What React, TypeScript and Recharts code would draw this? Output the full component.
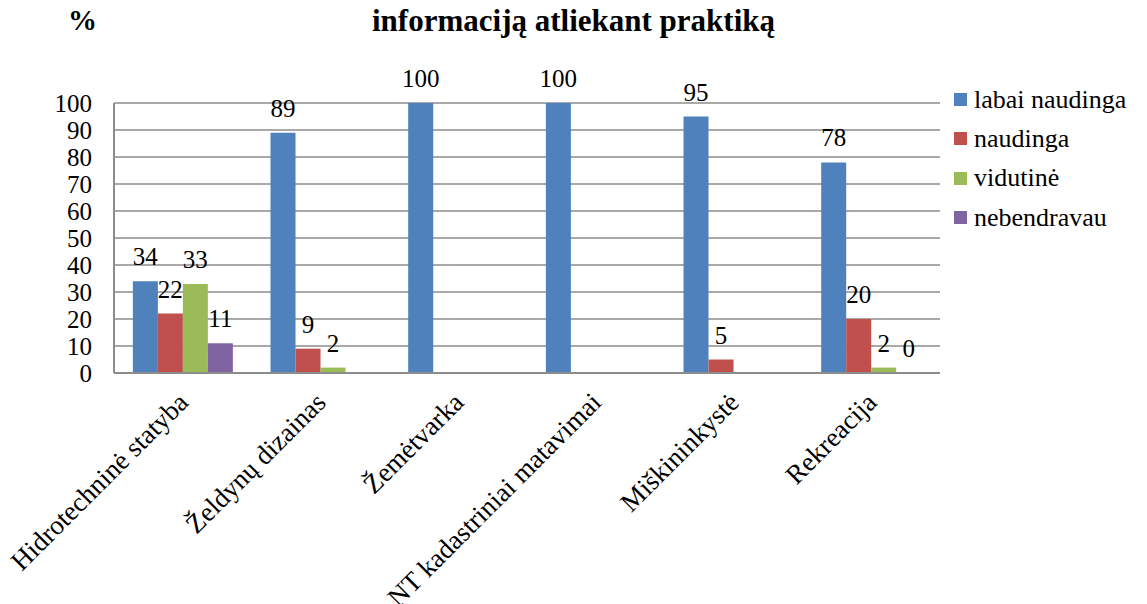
import { BarChart, Bar, XAxis, YAxis, CartesianGrid, LabelList } from 'recharts';

const categories = [
  'Hidrotechninė statyba',
  'Želdynų dizainas',
  'Žemėtvarka',
  'NT kadastriniai matavimai',
  'Miškininkystė',
  'Rekreacija',
];
const labaiNaudinga = [34, 89, 100, 100, 95, 78];
const naudinga = [22, 9, null, null, 5, 20];
const vidutine = [33, 2, null, null, null, 2];
const nebendravau = [11, null, null, null, null, 0];
const yTicks = [0, 10, 20, 30, 40, 50, 60, 70, 80, 90, 100];

const series = [
  { key: 'labai naudinga', color: '#4F81BD' },
  { key: 'naudinga', color: '#C0504D' },
  { key: 'vidutinė', color: '#9BBB59' },
  { key: 'nebendravau', color: '#8064A2' },
];

const data = categories.map((name, i) => ({
  name,
  'labai naudinga': labaiNaudinga[i],
  naudinga: naudinga[i],
  'vidutinė': vidutine[i],
  nebendravau: nebendravau[i],
}));

const FONT = '"Liberation Serif", "Times New Roman", serif';
const GRID = '#8c8c8c';

function XTick(props: any) {
  const { x, y, payload } = props;
  const ax = x + 7;
  const ay = y + 31;
  return (
    <text
      x={ax}
      y={ay}
      textAnchor="end"
      transform={`rotate(-45, ${ax}, ${ay})`}
      fill="#000"
      fontSize={27}
      fontFamily={FONT}
    >
      {payload.value}
    </text>
  );
}

function BarLabel(props: any) {
  const { x, y, width, value } = props;
  if (value === null || value === undefined) return null;
  return (
    <text x={Number(x) + Number(width) / 2} y={Number(y) - 16} textAnchor="middle" fill="#000" fontSize={25} fontFamily={FONT}>
      {value}
    </text>
  );
}

// keep zero-valued bars as (invisible) rectangles so their labels are still drawn
const zeroMin = (value: any) => (value === 0 ? 0.01 : 0);

export default function App() {
  return (
    <div style={{ position: 'absolute', top: 0, left: 0, width: 1147, height: 604, background: '#fff', fontFamily: FONT }}>
      <div style={{ position: 'absolute', top: 4, left: 68, fontSize: 29, fontWeight: 700 }}>%</div>
      <div style={{ position: 'absolute', top: 3, left: 0, width: 1147, textAlign: 'center', fontSize: 31, fontWeight: 700 }}>
        informaciją atliekant praktiką
      </div>
      <div style={{ position: 'absolute', top: 80, left: 954, fontSize: 26, color: '#000', fontFamily: FONT }}>
        {series.map((s) => (
          <div key={s.key} style={{ display: 'flex', alignItems: 'center', height: 39.3 }}>
            <span style={{ width: 13, height: 13, background: s.color, display: 'inline-block', marginRight: 7 }} />
            <span>{s.key}</span>
          </div>
        ))}
      </div>
      <BarChart
        width={1147}
        height={604}
        data={data}
        margin={{ top: 103, right: 207, left: 0, bottom: 0 }}
        barCategoryGap="13.7%"
        barGap={0}
      >
        <CartesianGrid horizontal vertical={false} stroke={GRID} strokeWidth={1.5} />
        <XAxis
          dataKey="name"
          height={231}
          tickSize={0}
          tickMargin={0}
          tickLine={false}
          axisLine={{ stroke: GRID, strokeWidth: 2 }}
          interval={0}
          tick={<XTick />}
        />
        <YAxis
          width={114}
          domain={[0, 100]}
          ticks={yTicks}
          interval={0}
          tickLine={false}
          tickSize={6}
          tickMargin={16}
          axisLine={{ stroke: GRID, strokeWidth: 2 }}
          tick={{ fill: '#000', fontSize: 25, fontFamily: FONT }}
        />
        {series.map((s) => (
          <Bar key={s.key} dataKey={s.key} fill={s.color} minPointSize={zeroMin} isAnimationActive={false}>
            <LabelList dataKey={s.key} content={<BarLabel />} />
          </Bar>
        ))}
      </BarChart>
    </div>
  );
}
